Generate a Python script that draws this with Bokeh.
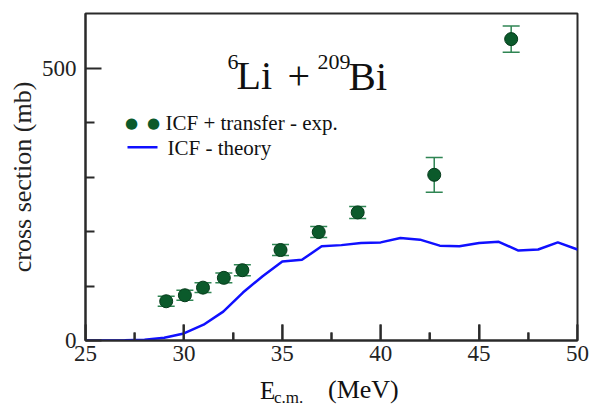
from bokeh.plotting import figure
from bokeh.layouts import column
from bokeh.models import (Range1d, FixedTicker, ColumnDataSource, Whisker, TeeHead,
                          Label, BoxAnnotation, Div, LinearAxis)
from bokeh.embed import file_html
from bokeh.resources import INLINE

# experimental data: ICF + transfer
E_exp = [29.1, 30.05, 30.97, 32.03, 32.97, 34.91, 36.85, 38.83, 42.72, 46.63]
sigma_exp = [72, 83, 97, 115, 129, 166, 199, 235, 304, 553]
err_exp = [9, 9, 9, 9, 10, 10, 10, 11, 32, 24]

# theory: ICF
E_th = [25, 26, 27, 28, 29, 30, 31, 32, 33, 34, 35, 36, 37, 38, 39, 40,
        41, 42, 43, 44, 45, 46, 47, 48, 49, 50]
sigma_th = [0, 0, 0.5, 1.5, 5, 13, 29, 53, 88, 118, 145, 148, 173, 175, 179, 180,
            188, 185, 174, 173, 179, 181, 165, 167, 180, 167]

x_major = [25, 30, 35, 40, 45, 50]
x_minor = [27.5, 32.5, 37.5, 42.5, 47.5]
y_major = [0, 500]
y_minor = [100, 200, 300, 400]

SERIF = "Liberation Serif"
AX = "#2a2a2a"
GREEN_FILL = "#0b5a2b"
GREEN_LINE = "#063a1b"
GREEN_ERR = "#2f8553"
BLUE = "#1010ff"
W, H = 590, 407
PH = 374           # figure height; the rest holds the x-axis title
FX, FY = 85, 340   # frame origin in page pixels (screen units are frame-relative)
Y0, Y1 = 0, 600
FRAME_H = FY - 13
MAJ_PX, MIN_PX = 16, 8

p = figure(width=W, height=PH, output_backend="svg", toolbar_location=None,
           x_range=Range1d(25, 50), y_range=Range1d(Y0, Y1),
           x_axis_type=None, y_axis_type=None,
           min_border_left=85, min_border_right=13, min_border_top=13,
           min_border_bottom=PH - FY, margin=0)
p.background_fill_color = "white"
p.border_fill_color = "white"
p.outline_line_color = AX
p.outline_line_width = 2


def make_axis(ticks, minor, tin, tmin):
    return LinearAxis(
        ticker=FixedTicker(ticks=ticks, minor_ticks=minor),
        axis_line_color=AX, axis_line_width=2,
        major_tick_line_color=AX, minor_tick_line_color=AX,
        major_tick_line_width=2, minor_tick_line_width=2,
        major_tick_in=tin, major_tick_out=0, minor_tick_in=tmin, minor_tick_out=0,
        major_label_text_font=SERIF, major_label_text_font_size="23px",
        major_label_text_color="#222222")


xaxis = make_axis(x_major, x_minor, MAJ_PX, MIN_PX)
xaxis.major_label_standoff = 5
yaxis = make_axis(y_major, y_minor, MAJ_PX, MIN_PX + 1)
yaxis.major_label_standoff = 9
yaxis.axis_label = "cross section (mb)"
yaxis.axis_label_text_font = SERIF
yaxis.axis_label_text_font_size = "26px"
yaxis.axis_label_text_font_style = "normal"
yaxis.axis_label_text_color = "#222222"
yaxis.axis_label_standoff = 2
p.add_layout(xaxis, "below")
p.add_layout(yaxis, "left")

# inward x ticks, also drawn as short segments rising from the bottom axis at the tick values
per_px = (Y1 - Y0) / FRAME_H
p.segment(x0=x_major, y0=[Y0] * len(x_major), x1=x_major,
          y1=[Y0 + MAJ_PX * per_px] * len(x_major),
          line_color=AX, line_width=2, line_cap="butt")
p.segment(x0=x_minor, y0=[Y0] * len(x_minor), x1=x_minor,
          y1=[Y0 + MIN_PX * per_px] * len(x_minor),
          line_color=AX, line_width=2, line_cap="butt")

# theory line
p.line(E_th, sigma_th, line_color=BLUE, line_width=2.5)

# error bars
upper = [s + e for s, e in zip(sigma_exp, err_exp)]
lower = [s - e for s, e in zip(sigma_exp, err_exp)]
src = ColumnDataSource(dict(x=E_exp, y=sigma_exp, upper=upper, lower=lower))
wh = Whisker(base="x", upper="upper", lower="lower", source=src,
             line_color=GREEN_ERR, line_width=1.5,
             upper_head=TeeHead(size=17, line_color=GREEN_ERR, line_width=1.5),
             lower_head=TeeHead(size=17, line_color=GREEN_ERR, line_width=1.5))
p.add_layout(wh)
p.scatter("x", "y", source=src, size=13, fill_color=GREEN_FILL,
          line_color=GREEN_LINE, line_width=1)


def lab(text, x, y, size, align="left", baseline="alphabetic", font=SERIF, color="#111111"):
    """x, y: page pixels from top-left; converted to frame-relative screen units."""
    p.add_layout(Label(x=x - FX, y=FY - y, x_units="screen", y_units="screen", text=text,
                       text_font=font, text_font_size=size, text_align=align,
                       text_baseline=baseline, text_color=color))


# title  6Li + 209Bi
lab("6", 227, 61, "22px")
lab("Li", 236, 75, "40px")
lab("+", 287, 75, "40px")
lab("209", 317, 61, "22px")
lab("Bi", 348, 75, "41px")

# legend
lab("\u25cf", 131, 122, "15px", align="center", baseline="middle",
    font="DejaVu Sans", color=GREEN_FILL)
lab("\u25cf", 153, 122, "15px", align="center", baseline="middle",
    font="DejaVu Sans", color=GREEN_FILL)
lab("ICF + transfer - exp.", 165, 122, "21px", baseline="middle")
p.add_layout(BoxAnnotation(left=127 - FX, right=157 - FX, bottom=FY - 148, top=FY - 145.5,
                           left_units="screen", right_units="screen",
                           bottom_units="screen", top_units="screen",
                           fill_color=BLUE, fill_alpha=1, line_alpha=0))
lab("ICF - theory", 167, 147, "21px", baseline="middle")

# x axis title  E_c.m. (MeV)
xtitle = Div(width=W, height=H - PH, margin=0, text=(
    '<div style="position:relative;width:590px;height:33px;'
    'font-family:\'Liberation Serif\';color:#111111;">'
    '<span style="position:absolute;left:260px;top:4px;font-size:25px;line-height:25px;">E</span>'
    '<span style="position:absolute;left:274px;top:15px;font-size:17px;line-height:17px;">c.m.</span>'
    '<span style="position:absolute;left:328px;top:3px;font-size:26px;line-height:26px;">(MeV)</span>'
    '</div>'))

layout = column(p, xtitle, spacing=0)
open("out.html", "w").write(file_html(layout, INLINE))
